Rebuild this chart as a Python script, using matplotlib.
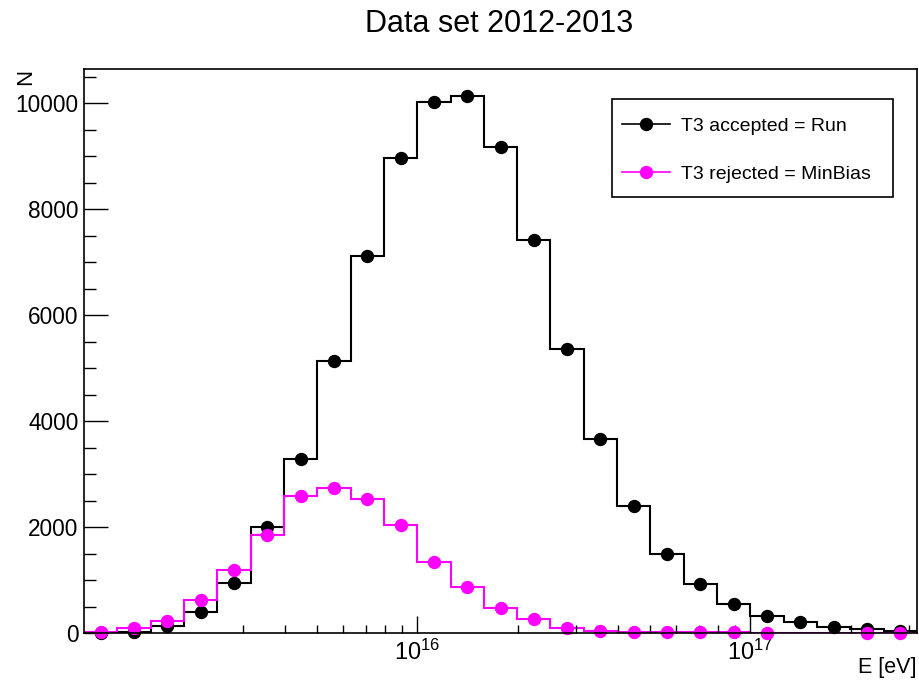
import numpy as np
import matplotlib
matplotlib.use("Agg")
import matplotlib.pyplot as plt
from matplotlib.patches import Rectangle
from matplotlib.ticker import FixedLocator, NullFormatter

plt.rcParams["font.family"] = ["Liberation Sans", "DejaVu Sans"]
plt.rcParams["mathtext.fontset"] = "custom"
plt.rcParams["mathtext.rm"] = "Liberation Sans"
plt.rcParams["mathtext.it"] = "Liberation Sans"

# log10(E/eV) binning: 25 bins of 0.1 decade from 10^15 to 10^17.5
log_edges = np.linspace(15.0, 17.5, 26)

# counts per bin
run_counts = [5, 20, 125, 403, 937, 2006, 3280, 5132, 7113, 8962,
              10013, 10138, 9176, 7415, 5353, 3660, 2402, 1485, 918, 541,
              320, 202, 120, 75, 38]
minbias_counts = [10, 95, 235, 620, 1180, 1850, 2588, 2730, 2522, 2038,
                  1345, 874, 468, 255, 100, 38, 25, 20, 15, 10,
                  5, 0, 0, 2, 2]

labels = ["T3 accepted = Run", "T3 rejected = MinBias"]
colors = ["black", "#ff00ff"]

edges = 10 ** log_edges
centers = 10 ** (0.5 * (log_edges[:-1] + log_edges[1:]))

W, H = 919, 683
fig = plt.figure(figsize=(W / 100, H / 100), dpi=100)
ax = fig.add_axes([84 / W, 1 - 633 / H, 833 / W, 564 / H])

handles = []
for counts, color, label in zip([run_counts, minbias_counts], colors, labels):
    counts = np.asarray(counts, dtype=float)
    ax.stairs(counts, edges, color=color, lw=1.5, baseline=None)
    # empty bins get no marker
    shown = np.where(counts > 0, counts, np.nan)
    ax.plot(centers, shown, "o", color=color, ms=8.6, mec=color, clip_on=False)
    handles.append(plt.Line2D([], [], color=color, lw=1.2, marker="o",
                              ms=8.6, label=label))

ax.set_xscale("log")
ax.set_xlim(1e15, 10 ** 17.5)
ax.set_ylim(0, 1.05 * max(run_counts))

ax.xaxis.set_major_locator(FixedLocator([1e16, 1e17]))
ax.set_xticklabels([r"$10^{16}$", r"$10^{17}$"])
minor_x = [m * 1e15 for m in range(3, 10)] + [m * 1e16 for m in range(2, 10)] + [2e17, 3e17]
ax.xaxis.set_minor_locator(FixedLocator(minor_x))
ax.xaxis.set_minor_formatter(NullFormatter())
ax.set_yticks([0, 2000, 4000, 6000, 8000, 10000])
ax.yaxis.set_minor_locator(FixedLocator(np.arange(500, 10600, 500)))

ax.tick_params(axis="x", which="major", direction="in", length=12, width=1,
               labelsize=17, pad=5)
ax.tick_params(axis="x", which="minor", direction="in", length=6, width=1)
ax.tick_params(axis="y", which="major", direction="in", length=17, width=1,
               labelsize=16.3, pad=4)
ax.tick_params(axis="y", which="minor", direction="in", length=8.6, width=1)
for spine in ax.spines.values():
    spine.set_linewidth(1.2)

# legend box drawn separately, entries placed inside it
box = Rectangle((611.7 / W, 1 - 196.7 / H), 281.6 / W, 97.7 / H,
                transform=fig.transFigure, facecolor="white",
                edgecolor="black", lw=1.2, zorder=5)
fig.patches.append(box)
leg = fig.legend(handles=handles, loc="upper left",
                 bbox_to_anchor=(621.7 / W, 1 - 116.9 / H),
                 fontsize=14, frameon=False, borderpad=0,
                 labelspacing=1.57, handlelength=2.5,
                 handletextpad=0.57, borderaxespad=0)
leg.set_zorder(6)

fig.text(499 / W, 1 - 24 / H, "Data set 2012-2013", fontsize=22,
         ha="center", va="center")
fig.text(26 / W, 1 - 77 / H, "N", fontsize=16, rotation=90,
         ha="center", va="center")
fig.text(917 / W, 1 - 668 / H, "E [eV]", fontsize=15.5,
         ha="right", va="center")

fig.savefig("out.png", dpi=100, facecolor="white")
